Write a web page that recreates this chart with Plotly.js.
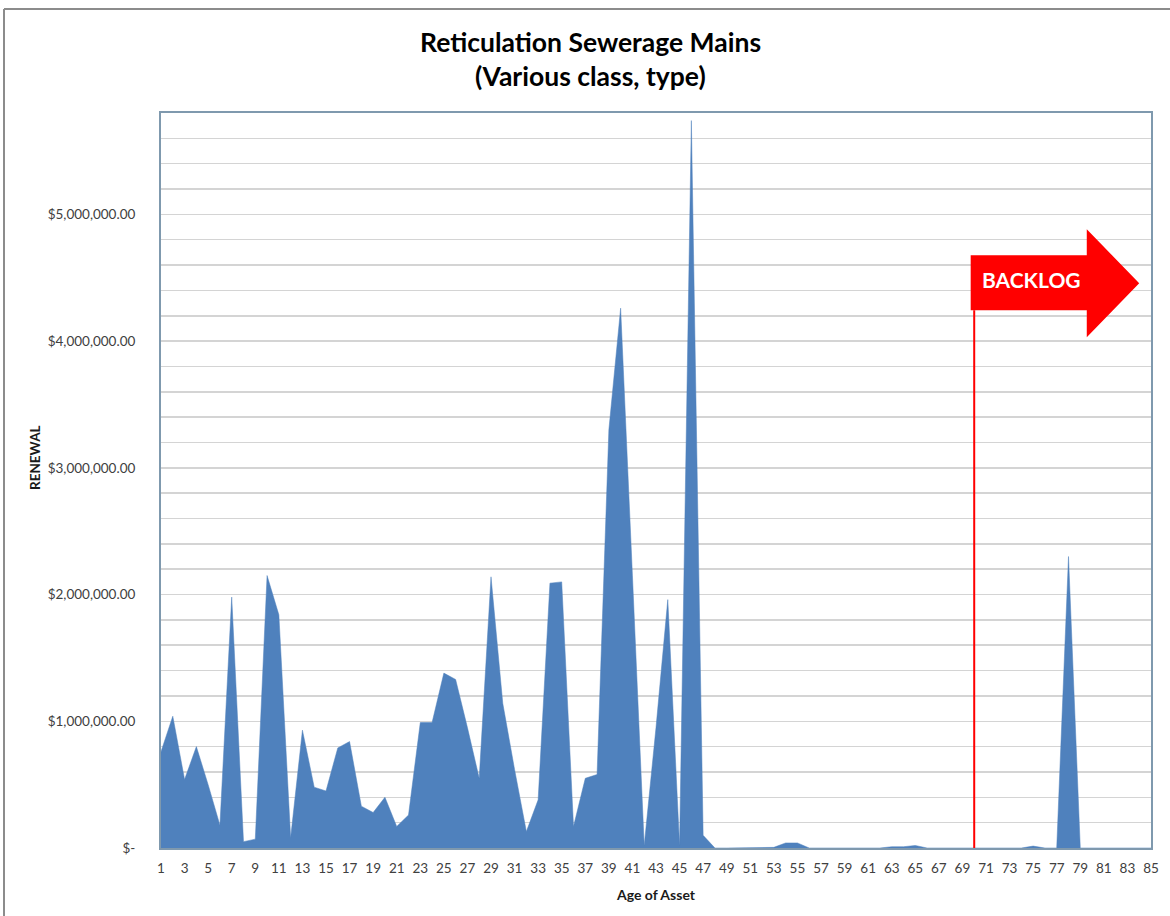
<!DOCTYPE html>
<html>
<head>
<meta charset="utf-8">
<script src="https://cdn.plot.ly/plotly-3.0.1.min.js"></script>
<style>
  html, body { margin: 0; padding: 0; background: #ffffff; }
  #chart { width: 1170px; height: 916px; }
</style>
</head>
<body>
<div id="chart"></div>
<script>
// Age of asset (years)
const ages = [
  1, 2, 3, 4, 5, 6, 7, 8, 9, 10, 11, 12, 13, 14, 15, 16, 17, 18, 19, 20,
  21, 22, 23, 24, 25, 26, 27, 28, 29, 30, 31, 32, 33, 34, 35, 36, 37, 38, 39, 40,
  41, 42, 43, 44, 45, 46, 47, 48, 49, 50, 51, 52, 53, 54, 55, 56, 57, 58, 59, 60,
  61, 62, 63, 64, 65, 66, 67, 68, 69, 70, 71, 72, 73, 74, 75, 76, 77, 78, 79, 80,
  81, 82, 83, 84, 85
];

// Renewal cost per age ($)
const renewal = [
  760000, 1040000, 540000, 800000, 500000, 180000, 1980000, 50000, 70000, 2150000,
  1840000, 80000, 930000, 480000, 450000, 790000, 840000, 330000, 280000, 400000,
  170000, 260000, 990000, 990000, 1380000, 1330000, 950000, 550000, 2140000, 1140000,
  620000, 130000, 380000, 2090000, 2100000, 170000, 550000, 580000, 3300000, 4260000,
  2150000, 20000, 950000, 1960000, 20000, 5740000, 100000, 0, 0, 0,
  0, 0, 5000, 40000, 40000, 0, 0, 0, 0, 0,
  0, 0, 10000, 10000, 20000, 0, 0, 0, 0, 0,
  0, 0, 0, 0, 15000, 0, 0, 2300000, 0, 0,
  0, 0, 0, 0, 0
];

// Labelled ages on the x axis
const xTickVals = [
  1, 3, 5, 7, 9, 11, 13, 15, 17, 19, 21, 23, 25, 27, 29, 31, 33, 35, 37, 39, 41,
  43, 45, 47, 49, 51, 53, 55, 57, 59, 61, 63, 65, 67, 69, 71, 73, 75, 77, 79, 81, 83, 85
];

// Labelled renewal values on the y axis
const yLabelVals = [0, 1000000, 2000000, 3000000, 4000000, 5000000];
const yLabels = ['$-', '$1,000,000.00', '$2,000,000.00', '$3,000,000.00', '$4,000,000.00', '$5,000,000.00'];

// Age from which assets are in backlog
const backlogAge = 70;
const backlogText = 'BACKLOG';

const titleLines = ['Reticulation Sewerage Mains', '(Various class, type)'];
const xTitle = 'Age of Asset';
const yTitle = 'RENEWAL';

// ---- axis scaffolding ----
const yMax = 5800000;
const gridStep = 200000;
const yTickVals = [];
const yTickText = [];
for (let v = 0; v <= yMax + 1; v += gridStep) {
  yTickVals.push(v);
  const i = yLabelVals.indexOf(v);
  yTickText.push(i >= 0 ? yLabels[i] : '');
}

const FONT = 'Lato, "Open Sans", sans-serif';
const AREA_BLUE = '#4F81BD';
const RED = '#FF0000';

const trace = {
  x: ages,
  y: renewal,
  type: 'scatter',
  mode: 'lines',
  fill: 'tozeroy',
  fillcolor: AREA_BLUE,
  line: { color: AREA_BLUE, width: 0.5 },
  hoverinfo: 'x+y'
};

// Backlog arrow geometry, in axis units
const arrow = {
  x0: 69.7, xNeck: 79.55, xTip: 84.0,
  bodyTop: 4677000, bodyBottom: 4243000,
  headTop: 4883000, headBottom: 4030000
};
const arrowMid = (arrow.headTop + arrow.headBottom) / 2;
const arrowPath =
  'M ' + arrow.x0 + ',' + arrow.bodyTop +
  ' L ' + arrow.xNeck + ',' + arrow.bodyTop +
  ' L ' + arrow.xNeck + ',' + arrow.headTop +
  ' L ' + arrow.xTip + ',' + arrowMid +
  ' L ' + arrow.xNeck + ',' + arrow.headBottom +
  ' L ' + arrow.xNeck + ',' + arrow.bodyBottom +
  ' L ' + arrow.x0 + ',' + arrow.bodyBottom + ' Z';

const layout = {
  width: 1170,
  height: 916,
  margin: { l: 161, r: 19, t: 113, b: 68 },
  paper_bgcolor: '#ffffff',
  plot_bgcolor: '#ffffff',
  showlegend: false,
  font: { family: FONT, color: '#404040' },
  xaxis: {
    range: [1, 85],
    tickmode: 'array',
    tickvals: xTickVals,
    ticktext: xTickVals.map(String),
    ticks: 'outside',
    ticklen: 7,
    tickcolor: 'rgba(0,0,0,0)',
    tickfont: { family: FONT, size: 13.5, color: '#404040' },
    showgrid: false,
    zeroline: false,
    showline: true,
    mirror: true,
    linecolor: '#7F99AE',
    linewidth: 2,
    title: { text: xTitle, font: { family: FONT, size: 14, color: '#1a1a1a', weight: 'bold' }, standoff: 15 },
    fixedrange: true
  },
  yaxis: {
    range: [0, yMax],
    tickmode: 'array',
    tickvals: yTickVals,
    ticktext: yTickText,
    ticks: 'outside',
    ticklen: 21,
    tickcolor: 'rgba(0,0,0,0)',
    tickfont: { family: FONT, size: 13.5, color: '#404040' },
    showgrid: true,
    gridcolor: '#D4D4D4',
    gridwidth: 1.5,
    zeroline: false,
    showline: true,
    mirror: true,
    linecolor: '#7F99AE',
    linewidth: 2,
    fixedrange: true
  },
  shapes: [
    // chart frame edges
    { type: 'line', xref: 'paper', yref: 'paper', x0: -157 / 990, x1: 1.02, y0: (848 - 9) / 735, y1: (848 - 9) / 735,
      line: { color: '#8C8C8C', width: 2 } },
    { type: 'line', xref: 'paper', yref: 'paper', x0: -157 / 990, x1: -157 / 990, y0: (848 - 9) / 735, y1: -0.1,
      line: { color: '#8C8C8C', width: 2 } },
    // backlog marker
    { type: 'line', xref: 'x', yref: 'y', x0: backlogAge, x1: backlogAge, y0: 0, y1: arrow.bodyBottom,
      line: { color: RED, width: 2 } },
    { type: 'path', xref: 'x', yref: 'y', path: arrowPath, fillcolor: RED, line: { width: 0 } }
  ],
  annotations: [
    { xref: 'paper', yref: 'paper', x: (590 - 161) / 990, y: (848 - 42) / 735, text: titleLines[0],
      showarrow: false, xanchor: 'center', yanchor: 'middle',
      font: { family: FONT, size: 26.5, color: '#000000', weight: 'bold' } },
    { xref: 'paper', yref: 'paper', x: (590 - 161) / 990, y: (848 - 76) / 735, text: titleLines[1],
      showarrow: false, xanchor: 'center', yanchor: 'middle',
      font: { family: FONT, size: 26.5, color: '#000000', weight: 'bold' } },
    { xref: 'paper', yref: 'paper', x: (35 - 161) / 990, y: (848 - 458) / 735, text: yTitle,
      showarrow: false, textangle: -90, xanchor: 'center', yanchor: 'middle',
      font: { family: FONT, size: 13.5, color: '#1a1a1a', weight: 'bold' } },
    { xref: 'x', yref: 'y', x: 74.9, y: 4487000, text: backlogText,
      showarrow: false, xanchor: 'center', yanchor: 'middle',
      font: { family: FONT, size: 21, color: '#ffffff', weight: 'bold' } }
  ]
};

Plotly.newPlot('chart', [trace], layout, { displayModeBar: false, staticPlot: true });
</script>
</body>
</html>
